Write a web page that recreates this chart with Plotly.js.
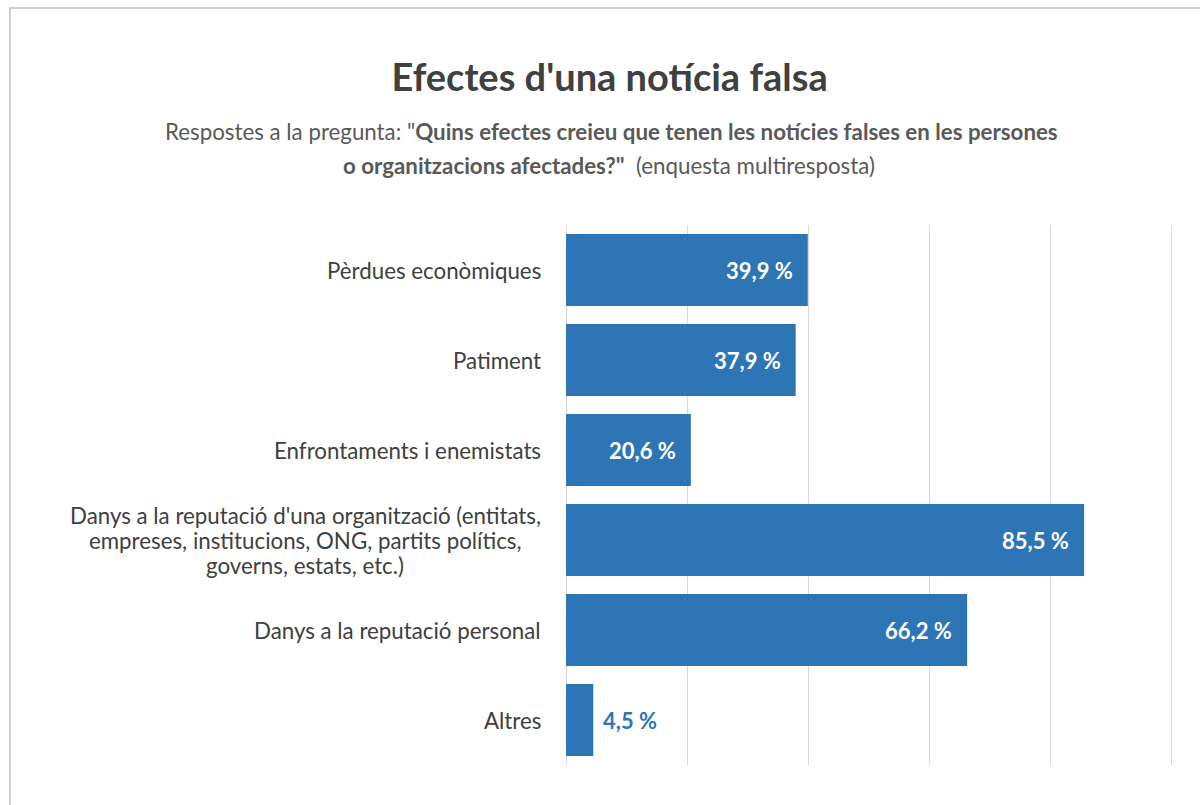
<!DOCTYPE html>
<html>
<head>
<meta charset="utf-8">
<script src="https://cdn.plot.ly/plotly-3.0.1.min.js"></script>
<style>
html, body { margin: 0; padding: 0; background: #fff; }
#chart { width: 1200px; height: 805px; position: relative; }
#frame { position: absolute; left: 9px; top: 7px; width: 1200px; height: 820px; border-left: 2px solid #d0d0d0; border-top: 2px solid #d0d0d0; pointer-events: none; }
</style>
</head>
<body>
<div id="chart"></div>
<div id="frame"></div>
<script>
const categories = [
  "Pèrdues econòmiques",
  "Patiment",
  "Enfrontaments i enemistats",
  "Danys a la reputació d'una organització (entitats,<br>empreses, institucions, ONG, partits polítics,<br>governs, estats, etc.)",
  "Danys a la reputació personal",
  "Altres"
];
const values = [39.9, 37.9, 20.6, 85.5, 66.2, 4.5];

const FONT = "Lato, 'Open Sans', sans-serif";
const LABEL_SIZE = 22.3;
const fmt = v => v.toFixed(1).replace('.', ',') + ' %';
const ids = categories.map((c, i) => 'c' + i);

const ctx = document.createElement('canvas').getContext('2d');
ctx.font = LABEL_SIZE + 'px Lato';
const textW = s => ctx.measureText(s).width;

const trace = {
  type: 'bar',
  orientation: 'h',
  y: ids,
  x: values,
  marker: { color: '#2E75B6' },
  width: 0.8,
  hoverinfo: 'skip'
};

const annotations = [];
values.forEach((v, i) => {
  const inside = v > 10;
  annotations.push({
    x: v, y: ids[i], xref: 'x', yref: 'y',
    text: '<b>' + fmt(v) + '</b>',
    showarrow: false,
    xanchor: inside ? 'right' : 'left',
    xshift: inside ? -13 : 8,
    font: { family: FONT, size: 22, color: inside ? '#ffffff' : '#2E75B6' }
  });
  const lines = categories[i].split('<br>');
  const LH = 25;
  const W = Math.max(...lines.map(textW));
  lines.forEach((ln, k) => {
    annotations.push({
      x: 0, y: ids[i], xref: 'paper', yref: 'y',
      text: ln,
      showarrow: false,
      xanchor: 'center', align: 'center',
      xshift: -22 - W / 2,
      yshift: ((lines.length - 1) / 2 - k) * LH,
      font: { family: FONT, size: LABEL_SIZE, color: '#404040' }
    });
  });
});

const layout = {
  width: 1200, height: 805,
  paper_bgcolor: '#ffffff', plot_bgcolor: '#ffffff',
  margin: { l: 563, r: 25, t: 225, b: 40 },
  showlegend: false,
  bargap: 0.2,
  title: {
    text: "<b>Efectes d'una notícia falsa</b>",
    x: 0.508, xanchor: 'center', y: 0.903, yanchor: 'middle',
    font: { family: FONT, size: 38, color: '#404040' }
  },
  xaxis: {
    range: [-0.5, 100.5], tickvals: [0, 20, 40, 60, 80, 100], showgrid: true, gridcolor: '#d9d9d9', gridwidth: 1,
    zeroline: false, showticklabels: false, showline: false, fixedrange: true
  },
  yaxis: {
    autorange: 'reversed', showticklabels: false, showgrid: false, zeroline: false, showline: false
  },
  annotations: annotations
};

layout.annotations.push({
  xref: 'paper', yref: 'paper', x: (611 - 563) / 612, y: 1, xanchor: 'center', yanchor: 'middle',
  yshift: 225 - 131,
  text: 'Respostes a la pregunta: "<b>Quins efectes creieu que tenen les notícies falses en les persones</b>',
  showarrow: false,
  font: { family: FONT, size: 22.3, color: '#595959' }
});
layout.annotations.push({
  xref: 'paper', yref: 'paper', x: (609 - 563) / 612, y: 1, xanchor: 'center', yanchor: 'middle',
  yshift: 225 - 165,
  text: '<b>o organitzacions afectades?"</b>  (enquesta multiresposta)',
  showarrow: false,
  font: { family: FONT, size: 22.3, color: '#595959' }
});

Plotly.newPlot('chart', [trace], layout, { displayModeBar: false, staticPlot: true });
</script>
</body>
</html>
